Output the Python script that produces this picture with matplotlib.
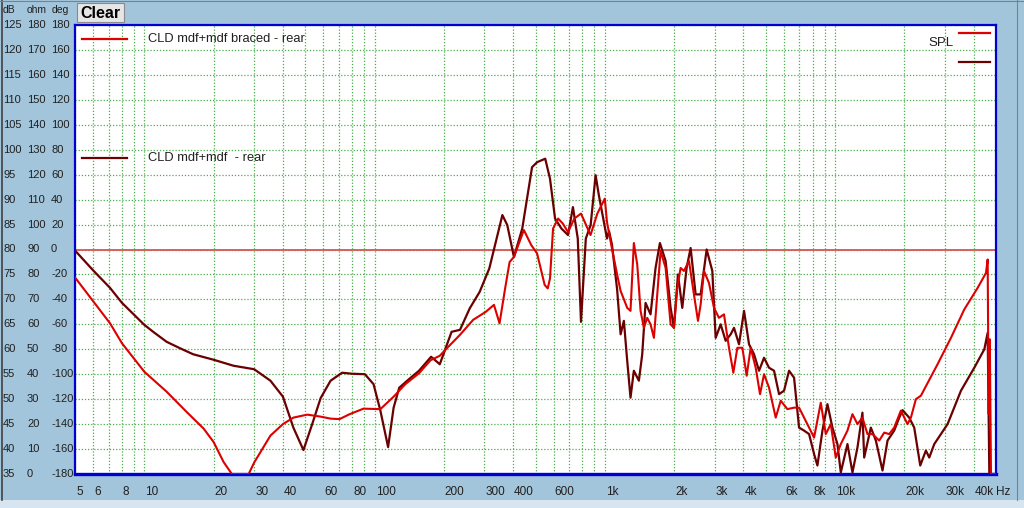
import matplotlib
matplotlib.use("Agg")
import matplotlib.pyplot as plt
from matplotlib.lines import Line2D
from matplotlib.patches import Rectangle

# ---------------- data ----------------
braced_freq = [5, 6, 7.1, 8, 10, 12.5, 15.3, 18.1, 20, 22.1, 24, 28.4, 30, 35.3, 40, 44.4, 51, 58.3,
               64.4, 70.4, 78, 89.6, 106, 121, 136, 156, 175, 192, 206, 235, 268, 304, 330, 349, 369,
               386, 403, 445, 479, 508, 548, 565, 578, 596, 627, 657, 692, 737, 788, 867, 928, 1000,
               1022, 1074, 1131, 1171, 1251, 1293, 1337, 1383, 1430, 1478, 1528, 1580, 1634, 1690,
               1747, 1837, 1931, 1996, 2064, 2134, 2207, 2320, 2438, 2539, 2608, 2696, 2834, 2980,
               3132, 3293, 3462, 3616, 3764, 3957, 4132, 4300, 4522, 4722, 4915, 5167, 5524, 5808,
               6207, 6637, 6977, 7334, 7712, 8108, 8669, 9113, 9580, 10070, 10590, 11320, 11900,
               12510, 13150, 13830, 14540, 15550, 16350, 17180, 18060, 19310, 20640, 21350, 22440,
               23600, 27870, 31870, 36420, 41600, 45230, 46000, 46460, 47000, 47550, 50000]
braced_db = [74.4, 69.6, 65.2, 61.2, 55.5, 51.5, 47.4, 44.1, 41.4, 37.4, 35, 35, 37.3, 42.7, 45, 46.3,
             46.9, 46.5, 46.1, 46, 47, 48.1, 48, 50.5, 53, 55.2, 57.8, 58.7, 60.2, 62.9, 65.9, 67.5,
             68.9, 65.2, 72.2, 77.5, 78.5, 83.9, 80.9, 79.2, 72.9, 72.2, 74.2, 84.2, 86.2, 85.2, 83.5,
             86.2, 87.2, 82.9, 87.2, 90.2, 85.5, 80.2, 75, 71.7, 68.3, 67.7, 81.3, 77, 67.7, 64.3,
             66.3, 65, 62.3, 71, 79.7, 76.3, 65, 64.3, 72.3, 76.3, 75.7, 77.7, 71, 65.7, 69, 75.7,
             73.3, 68.3, 66.3, 67, 60.3, 55.3, 60.3, 60.3, 54.7, 60.3, 56.3, 51, 55, 52.3, 46.3, 49.7,
             48, 48.3, 48.3, 46.3, 44.3, 42.3, 49.3, 43, 45, 38.3, 41, 43.7, 47, 45, 46.3, 43, 43,
             41.7, 43.3, 43, 44.3, 47.7, 45, 46.3, 50, 50.7, 57, 62.3, 68, 72.3, 75.3, 78, 47, 62, 35, 35]

plain_freq = [5, 6, 7.1, 8, 10, 11, 12.5, 14.3, 16.3, 20, 24.4, 30, 35.3, 40, 44.4, 49.1, 53.6, 58.3,
              64.4, 72.3, 79.8, 90.8, 99, 106, 114.5, 121, 128, 141, 156, 176, 192, 206, 216, 235,
              259, 286, 315, 359, 377, 403, 438, 483, 508, 551, 578, 608, 648, 692, 727, 763, 788,
              827, 868, 912, 942, 1022, 1043, 1074, 1131, 1171, 1210, 1251, 1293, 1337, 1406, 1454,
              1503, 1580, 1661, 1735, 1837, 1931, 1996, 2078, 2170, 2266, 2359, 2480, 2608, 2769,
              2930, 3030, 3185, 3348, 3521, 3640, 3827, 4024, 4230, 4447, 4675, 4915, 5167, 5432,
              5712, 6004, 6313, 6637, 6977, 7334, 7712, 8108, 8383, 8814, 9266, 9741, 10240, 10590,
              11320, 11900, 12510, 13150, 13380, 14300, 15040, 16070, 16900, 18060, 19000, 19640,
              20990, 22070, 23440, 24800, 25650, 26970, 30810, 35220, 40240, 44490, 46000, 46780, 50000]
plain_db = [79.8, 75.8, 72.3, 69.3, 64.9, 63.4, 61.5, 60.2, 59, 57.9, 56.7, 56, 53.7, 50.5, 44.3, 39.8,
            45, 50.2, 53.7, 55.3, 55.1, 55, 53, 47.7, 40.4, 48.3, 52.3, 54, 55.7, 58.5, 57, 60.9, 63.5,
            63.9, 68.2, 71.5, 76.2, 86.9, 84.9, 78.5, 84.2, 96.5, 97.5, 98.2, 94.2, 86.2, 84.2, 82.9,
            88.5, 82.2, 65.5, 82.2, 84.9, 94.9, 90.9, 82.2, 83.7, 81, 72, 63, 65.7, 57.7, 50.3, 55.7,
            53.7, 59, 69.3, 67, 76.3, 81.3, 77.7, 68.3, 64.3, 75, 68.3, 76.3, 80.3, 71, 71, 80, 75.7,
            62.3, 65, 61.7, 63, 64.3, 61, 67.7, 61, 59, 55.7, 58.3, 56.3, 55.7, 51, 51.7, 55.7, 54.3,
            44.3, 43.7, 43, 39, 36.7, 43.7, 49, 44.3, 41, 35.3, 41, 35.3, 40.3, 47.3, 38.3, 44.3, 41.7,
            35.7, 41.7, 43.7, 46.3, 47.8, 46.3, 44.3, 36.7, 39.7, 38.3, 41, 45, 51.7, 56.3, 60, 63.3,
            35, 35]

db_labels = ["125", "120", "115", "110", "105", "100", "95", "90", "85", "80", "75", "70", "65",
             "60", "55", "50", "45", "40", "35"]
ohm_labels = ["180", "170", "160", "150", "140", "130", "120", "110", "100", "90", "80", "70",
              "60", "50", "40", "30", "20", "10", "0"]
deg_labels = ["180", "160", "140", "120", "100", "80", "60", "40", "20", "0", "-20", "-40", "-60",
              "-80", "-100", "-120", "-140", "-160", "-180"]
x_tick_freqs = [5, 6, 8, 10, 20, 30, 40, 60, 80, 100, 200, 300, 400, 600, 1000, 2000, 3000, 4000,
                6000, 8000, 10000, 20000, 30000, 40000]
x_tick_labels = ["5", "6", "8", "10", "20", "30", "40", "60", "80", "100", "200", "300", "400",
                 "600", "1k", "2k", "3k", "4k", "6k", "8k", "10k", "20k", "30k", "40k"]
legend_labels = ["CLD mdf+mdf braced - rear", "CLD mdf+mdf  - rear"]
ref_level = 80

# ---------------- style ----------------
W, H = 1024, 508
BG = "#A3C5DC"
RED = "#DC0000"
DARK = "#6A0000"
GRID = "#49AE49"
FONT = "Liberation Sans"
plt.rcParams["font.family"] = [FONT, "DejaVu Sans"]

fig = plt.figure(figsize=(W / 100, H / 100), dpi=100, facecolor=BG)

def fx(px):
    return px / W

def fy(py):
    return 1 - py / H

L, R, T, B = 75, 996, 25, 474
ax = fig.add_axes([fx(L), fy(B), fx(R - L), (B - T) / H])
ax.set_facecolor("white")
ax.set_xscale("log")
ax.set_xlim(5, 50000)
ax.set_ylim(35, 125)
ax.set_xticks([])
ax.set_yticks([])
ax.minorticks_off()
ax.xaxis.set_minor_locator(matplotlib.ticker.NullLocator())

# grid
for k in range(0, 5):
    for m in range(1, 10):
        f = m * 10 ** k
        if 5 <= f < 50000:
            ax.axvline(f, color=GRID, lw=0.9, ls=(0, (1, 1.5)), zorder=1)
for lab in db_labels:
    ax.axhline(float(lab), color=GRID, lw=0.9, ls=(0, (1, 1.5)), zorder=1)

ax.axhline(ref_level, color="#D85555", lw=1.3, zorder=2)

ax.plot(braced_freq, braced_db, color=RED, lw=1.5, zorder=4, solid_joinstyle="round")
ax.plot(plain_freq, plain_db, color=DARK, lw=1.6, zorder=3, solid_joinstyle="round")

for side in ["left", "right", "top"]:
    ax.spines[side].set_color("#0000D0")
    ax.spines[side].set_linewidth(1.6)
ax.spines["bottom"].set_color("#0000D0")
ax.spines["bottom"].set_linewidth(2.4)

# y labels (three columns)
for i, (a, b, c) in enumerate(zip(db_labels, ohm_labels, deg_labels)):
    v = float(a)
    yp = B - (v - 35) / 90 * (B - T)
    fig.text(fx(3), fy(yp), a, fontsize=8, ha="left", va="center", color="#202020")
    fig.text(fx(27), fy(yp), b, fontsize=8, ha="left", va="center", color="#202020")
    fig.text(fx(51), fy(yp), c, fontsize=8, ha="left", va="center", color="#202020")
fig.text(fx(3), fy(10), "dB", fontsize=7.5, ha="left", va="center", color="#202020")
fig.text(fx(27), fy(10), "ohm", fontsize=7.5, ha="left", va="center", color="#202020")
fig.text(fx(52), fy(10), "deg", fontsize=7.5, ha="left", va="center", color="#202020")

# x labels
import math
for f, lab in zip(x_tick_freqs, x_tick_labels):
    xp = L + (R - L) * (math.log10(f) - math.log10(5)) / 4
    fig.text(fx(xp + 1), fy(492), lab, fontsize=8.5, ha="left", va="center", color="#202020")
fig.text(fx(996), fy(492), "Hz", fontsize=8.5, ha="left", va="center", color="#202020")

# window chrome
fig.add_artist(Rectangle((0, 0), 1, fy(500), transform=fig.transFigure, facecolor="#D6E5EF",
                         edgecolor="none", zorder=-5))
fig.add_artist(Line2D([fx(2), fx(2)], [fy(500), 1], color="#404040", lw=1.2))
fig.add_artist(Line2D([fx(1017), fx(1017)], [fy(500), 1], color="#808080", lw=0.8))
fig.add_artist(Line2D([0, 1], [fy(0.5), fy(0.5)], color="#808080", lw=0.8))

# Clear button
fig.add_artist(Rectangle((fx(77), fy(22)), fx(47), 19 / H, transform=fig.transFigure,
                         facecolor="#E6E6E6", edgecolor="#8A8A8A", lw=0.8))
fig.text(fx(100.5), fy(13), "Clear", fontsize=11.5, fontweight="bold", ha="center", va="center",
         color="black")

# legends
fig.add_artist(Line2D([fx(82), fx(127)], [fy(39), fy(39)], color=RED, lw=1.6))
fig.text(fx(148), fy(39), legend_labels[0], fontsize=9.3, ha="left", va="center", color="#202020")
fig.add_artist(Line2D([fx(82), fx(127)], [fy(158), fy(158)], color=DARK, lw=1.6))
fig.text(fx(148), fy(158), legend_labels[1], fontsize=9.3, ha="left", va="center", color="#202020")

fig.text(fx(928), fy(43), "SPL", fontsize=9.5, ha="left", va="center", color="#202020")
fig.add_artist(Line2D([fx(959), fx(990)], [fy(33), fy(33)], color=RED, lw=1.6))
fig.add_artist(Line2D([fx(959), fx(990)], [fy(62), fy(62)], color=DARK, lw=1.6))

fig.savefig("out.png", dpi=100, facecolor=BG)
